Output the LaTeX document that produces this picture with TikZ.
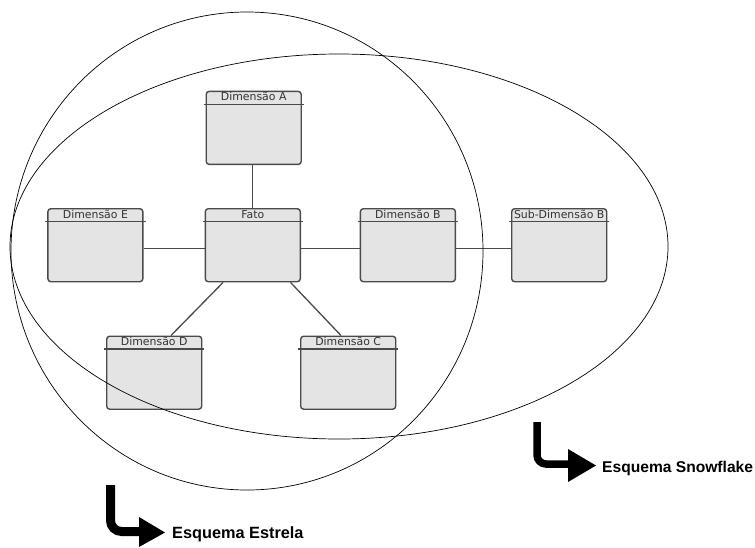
\documentclass[tikz,border=0pt]{standalone}
\usepackage{fontspec}
\setmainfont{DejaVu Sans}
\newfontfamily\lsans{Liberation Sans}
\definecolor{boxfill}{HTML}{E4E4E4}
\definecolor{boxline}{HTML}{4A4A4A}
\definecolor{txtgray}{HTML}{333333}
\tikzset{
  tbl/.style={draw=boxline, fill=boxfill, line width=1.4pt, rounded corners=3pt,
    minimum width=95pt, minimum height=73pt, inner sep=0pt, anchor=north west},
  tbltitle/.style={font=\fontsize{10.9}{12}\selectfont, text=txtgray, anchor=base, inner sep=0pt},
  hdr/.style={draw=boxline, line width=1.2pt},
  conn/.style={draw=boxline, line width=1.3pt},
  oval/.style={draw=black, line width=0.7pt},
  bigtxt/.style={font=\lsans\bfseries, anchor=base west, inner sep=0pt, text=black},
}
\newcommand\mytitle[2]{%
  \node[tbltitle] (#1-t) at ([yshift=-10pt]#1.north) {#2};
  \draw[hdr] ([xshift=-2pt,yshift=-13.5pt]#1.north west) -- ([xshift=2pt,yshift=-13.5pt]#1.north east);
}
\begin{document}
\begin{tikzpicture}[x=1pt,y=-1pt]
\useasboundingbox (0,0) rectangle (755,547);
% tables
\node[tbl] (A) at (205.5,90.7) {};
\node[tbl] (F) at (204.6,208) {};
\node[tbl] (E) at (47.2,208) {};
\node[tbl] (B) at (359.7,208) {};
\node[tbl] (SB) at (511,208) {};
\node[tbl] (D) at (106,335.5) {};
\node[tbl] (C) at (300,335.5) {};
\mytitle{A}{Dimensão A}
\mytitle{F}{Fato}
\mytitle{E}{Dimensão E}
\mytitle{B}{Dimensão B}
\mytitle{SB}{Sub-Dimensão B}
\mytitle{D}{Dimensão D}
\mytitle{C}{Dimensão C}
% connectors
\draw[conn] ([xshift=-1.5pt]A.south) -- ([xshift=-1.5pt]A.south |- F.north);
\draw[conn] ([yshift=-3.5pt]E.east) -- ([yshift=-3.5pt]F.west);
\draw[conn] ([yshift=-3.5pt]F.east) -- ([yshift=-3.5pt]B.west);
\draw[conn] ([yshift=-3.5pt]B.east) -- ([yshift=-3.5pt]SB.west);
\draw[conn] ([xshift=18.5pt]F.south west) -- ([xshift=65pt]D.north west);
\draw[conn] ([xshift=-10.5pt]F.south east) -- ([xshift=41pt]C.north west);
% ovals
\draw[oval] (247,251) ellipse [x radius=236pt, y radius=239pt];
\draw[oval] (339,246.5) ellipse [x radius=329pt, y radius=192.5pt];
% bent arrows
\draw[line width=7.5pt, rounded corners=9pt] (537,422) |- (571,464);
\fill (568,449) -- (596,465.5) -- (568,482) -- cycle;
\draw[line width=9pt, rounded corners=11pt] (110.5,485) |- (142,531.5);
\fill (139,517) -- (165,532.5) -- (139,547) -- cycle;
% captions
\node[bigtxt, font=\lsans\bfseries\fontsize{15.6}{18}\selectfont] (snow) at (602,472.5) {Esquema Snowflake};
\node[bigtxt, font=\lsans\bfseries\fontsize{16.3}{19}\selectfont] (star) at (172,538.3) {Esquema Estrela};
\end{tikzpicture}
\end{document}
